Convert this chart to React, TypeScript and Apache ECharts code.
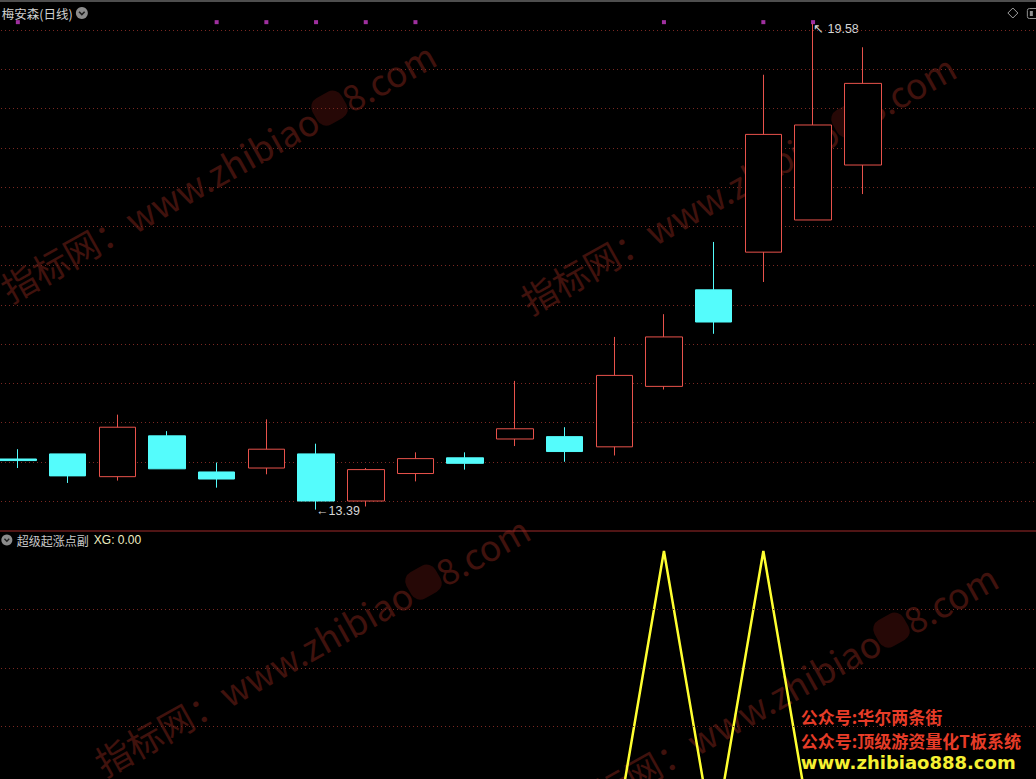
import React, { useEffect, useRef } from "react";
import * as echarts from "echarts";

// Trading days shown in the window (oldest first)
const days = ["1", "2", "3", "4", "5", "6", "7", "8", "9", "10", "11", "12", "13", "14", "15", "16", "17", "18"];
const emptySlots = 3;

// Daily prices of 梅安森
const opens = [14.035, 14.1, 13.81, 14.33, 13.87, 13.92, 14.1, 13.5, 13.85, 14.05, 14.29, 14.32, 14.19, 14.96, 16.19, 16.67, 17.08, 17.78];
const closes = [14.015, 13.82, 14.44, 13.91, 13.78, 14.16, 13.5, 13.9, 14.04, 13.98, 14.42, 14.13, 15.1, 15.59, 15.78, 18.17, 18.29, 18.82];
const lows = [13.92, 13.73, 13.76, 13.91, 13.67, 13.84, 13.39, 13.43, 13.75, 13.9, 14.2, 14.0, 14.08, 14.92, 15.63, 16.29, 17.08, 17.41];
const highs = [14.16, 14.1, 14.6, 14.39, 13.99, 14.54, 14.23, 13.92, 14.12, 14.12, 15.03, 14.44, 15.59, 15.88, 16.8, 18.93, 19.58, 19.28];

// Days flagged by the main-chart signal (drawn as small marks along the top)
const signalDays = [0, 4, 5, 6, 7, 8, 13, 15, 16];
const signalLevel = 19.6;

// 超级起涨点副 indicator
const xg = [0, 0, 0, 0, 0, 0, 0, 0, 0, 0, 0, 0, 0, 1, 0, 1, 0, 0];
const xgGuides = [0.4, 0.6, 0.8];

// Price axis
const priceMin = 13.5;
const priceMax = 19.5;
const priceStep = 0.5;

const UP = "#e8524b";
const DOWN = "#54fcfc";
const GRID_DOT = "#7a2822";
const WM = "#40120d";

const W = 1036;
const H = 779;
const BAND = 49.7;
// the plot starts a little left of the visible page edge
const OX = 6.85;
const CHART_H = 860;

export default function App() {
  const ref = useRef<HTMLDivElement>(null);

  useEffect(() => {
    document.body.style.margin = "0";
    document.body.style.background = "#000";
    document.body.style.overflow = "hidden";
    const chart = echarts.init(ref.current!, null, { renderer: "svg" });

    const slots = days.concat(Array(emptySlots).fill(""));
    const kData = days.map((_, i) => [opens[i], closes[i], lows[i], highs[i]]);

    let lowIdx = 0;
    let highIdx = 0;
    lows.forEach((v, i) => {
      if (v < lows[lowIdx]) lowIdx = i;
    });
    highs.forEach((v, i) => {
      if (v > highs[highIdx]) highIdx = i;
    });

    const plotWidth = BAND * slots.length;

    const wm = (x: number, y: number) => ({
      type: "text",
      x: x + OX,
      y,
      rotation: 0.51,
      z: -10,
      silent: true,
      style: {
        text: "指标网：www.zhibiao{b|88}8.com",
        fill: WM,
        font: "35.5px 'Noto Sans CJK SC', sans-serif",
        verticalAlign: "bottom",
        rich: {
          b: {
            fill: "#260806",
            backgroundColor: "#260806",
            fontSize: 30,
            fontFamily: "Noto Sans CJK SC",
            borderRadius: 10,
          },
        },
      },
    });

    const graphics: any[] = [
      wm(12, 306),
      wm(532, 318),
      wm(106, 780),
      wm(574, 828),
      { type: "rect", shape: { x: 0, y: 0, width: W + OX + 2, height: 2 }, style: { fill: "#4e4e4e" }, silent: true },
      {
        type: "text",
        x: 2 + OX,
        y: 13,
        style: { text: "梅安森(日线)", fill: "#d0d0d0", font: "12.5px 'Noto Sans CJK SC', sans-serif", verticalAlign: "middle" },
      },
      { type: "circle", shape: { cx: 82 + OX, cy: 13, r: 6 }, style: { fill: "#8c8c8c" }, silent: true },
      {
        type: "polyline",
        shape: { points: [[79.2 + OX, 11.8], [82 + OX, 14.6], [84.8 + OX, 11.8]] },
        style: { stroke: "#1e1e1e", lineWidth: 1.6, fill: null },
        silent: true,
      },
      {
        type: "polygon",
        shape: { points: [[1013 + OX, 8], [1018 + OX, 13], [1013 + OX, 18], [1008 + OX, 13]] },
        style: { stroke: "#a0a0a0", fill: null, lineWidth: 1 },
        silent: true,
      },
      {
        type: "rect",
        shape: { x: 1027.5 + OX, y: 8.5, width: 14, height: 10, r: 2 },
        style: { stroke: "#909090", fill: null, lineWidth: 1 },
        silent: true,
      },
      { type: "rect", shape: { x: 1030 + OX, y: 11, width: 3, height: 5 }, style: { fill: "#909090" }, silent: true },
      {
        type: "line",
        shape: { x1: 0, y1: 531, x2: W + OX + 2, y2: 531 },
        style: { stroke: "#a02a2a", lineWidth: 1 },
        silent: true,
      },
      { type: "circle", shape: { cx: 7 + OX, cy: 540, r: 5.5 }, style: { fill: "#8c8c8c" }, silent: true },
      {
        type: "polyline",
        shape: { points: [[4.6 + OX, 538.8], [7 + OX, 541.2], [9.4 + OX, 538.8]] },
        style: { stroke: "#1e1e1e", lineWidth: 1.4, fill: null },
        silent: true,
      },
      {
        type: "text",
        x: 17 + OX,
        y: 540,
        style: { text: "超级起涨点副", fill: "#c8c8c8", font: "12px 'Noto Sans CJK SC', sans-serif", verticalAlign: "middle" },
      },
      {
        type: "text",
        x: 94 + OX,
        y: 540,
        style: {
          text: "XG: " + xg[xg.length - 1].toFixed(2),
          fill: "#eeeec0",
          font: "12px 'Liberation Sans', Arial, sans-serif",
          verticalAlign: "middle",
        },
      },
      {
        type: "text",
        x: 801 + OX,
        y: 716,
        z: 100,
        style: { text: "公众号:华尔两条街", fill: "#e63c28", font: "bold 17px 'Noto Sans CJK SC', sans-serif", verticalAlign: "middle" },
      },
      {
        type: "text",
        x: 801 + OX,
        y: 740,
        z: 100,
        style: { text: "公众号:顶级游资量化T板系统", fill: "#e63c28", font: "bold 17px 'Noto Sans CJK SC', sans-serif", verticalAlign: "middle" },
      },
      {
        type: "text",
        x: 801 + OX,
        y: 762,
        z: 100,
        style: { text: "www.zhibiao888.com", fill: "#f5f032", font: "bold 18px 'DejaVu Sans', sans-serif", verticalAlign: "middle" },
      },
    ];

    chart.setOption({
      animation: false,
      backgroundColor: "#000",
      grid: [
        { left: 0, width: plotWidth, top: 30, height: 471 },
        { left: 0, width: plotWidth, top: 551, height: 292 },
      ],
      xAxis: [
        { type: "category", gridIndex: 0, data: slots, boundaryGap: true, show: false },
        { type: "category", gridIndex: 1, data: slots, boundaryGap: true, show: false },
      ],
      yAxis: [
        {
          type: "value",
          gridIndex: 0,
          min: priceMin,
          max: priceMax,
          interval: priceStep,
          axisLine: { show: false },
          axisTick: { show: false },
          axisLabel: { show: false },
          splitLine: { show: true, lineStyle: { color: GRID_DOT, type: [1, 3], width: 1 } },
        },
        {
          type: "value",
          gridIndex: 1,
          min: 0,
          max: 1,
          axisLine: { show: false },
          axisTick: { show: false },
          axisLabel: { show: false },
          splitLine: { show: false },
        },
      ],
      series: [
        {
          type: "candlestick",
          xAxisIndex: 0,
          yAxisIndex: 0,
          data: kData,
          barWidth: 37,
          clip: false,
          itemStyle: {
            color: "#000",
            color0: DOWN,
            borderColor: UP,
            borderColor0: DOWN,
            borderWidth: 1,
          },
        },
        {
          type: "scatter",
          xAxisIndex: 0,
          yAxisIndex: 0,
          clip: false,
          symbol: "rect",
          symbolSize: 4,
          itemStyle: { color: "#c83cc8" },
          data: signalDays.map((d) => [d, signalLevel]),
          silent: true,
        },
        {
          type: "line",
          xAxisIndex: 1,
          yAxisIndex: 1,
          data: xg,
          symbol: "none",
          lineStyle: { color: "#ffff30", width: 2.5 },
          silent: true,
          markLine: {
            silent: true,
            symbol: ["none", "none"],
            label: { show: false },
            lineStyle: { color: GRID_DOT, type: [1, 3], width: 1 },
            data: xgGuides.map((v) => ({ yAxis: v })),
          },
        },
      ],
      graphic: graphics,
    });

    // extreme-price tags placed through the price scale
    const lowPt = chart.convertToPixel({ gridIndex: 0 }, [lowIdx, lows[lowIdx]]) as number[];
    const highPt = chart.convertToPixel({ gridIndex: 0 }, [highIdx, highs[highIdx]]) as number[];
    const tagFont = "12.5px 'Liberation Sans', Arial, sans-serif";
    chart.setOption({
      graphic: graphics.concat([
        {
          type: "text",
          x: lowPt[0],
          y: lowPt[1] + 1.5,
          style: { text: "←" + lows[lowIdx].toFixed(2), fill: "#d6d6d6", font: tagFont, verticalAlign: "middle" },
        },
        {
          type: "text",
          x: highPt[0],
          y: highPt[1] + 5,
          style: { text: "↖ " + highs[highIdx].toFixed(2), fill: "#d6d6d6", font: tagFont, verticalAlign: "middle" },
        },
      ]),
    });

    return () => chart.dispose();
  }, []);

  return (
    <div style={{ position: "absolute", left: 0, top: 0, width: W, height: H, overflow: "hidden", background: "#000" }}>
      <div
        ref={ref}
        style={{ position: "absolute", left: -OX, top: 0, width: BAND * (days.length + emptySlots), height: CHART_H }}
      />
    </div>
  );
}
